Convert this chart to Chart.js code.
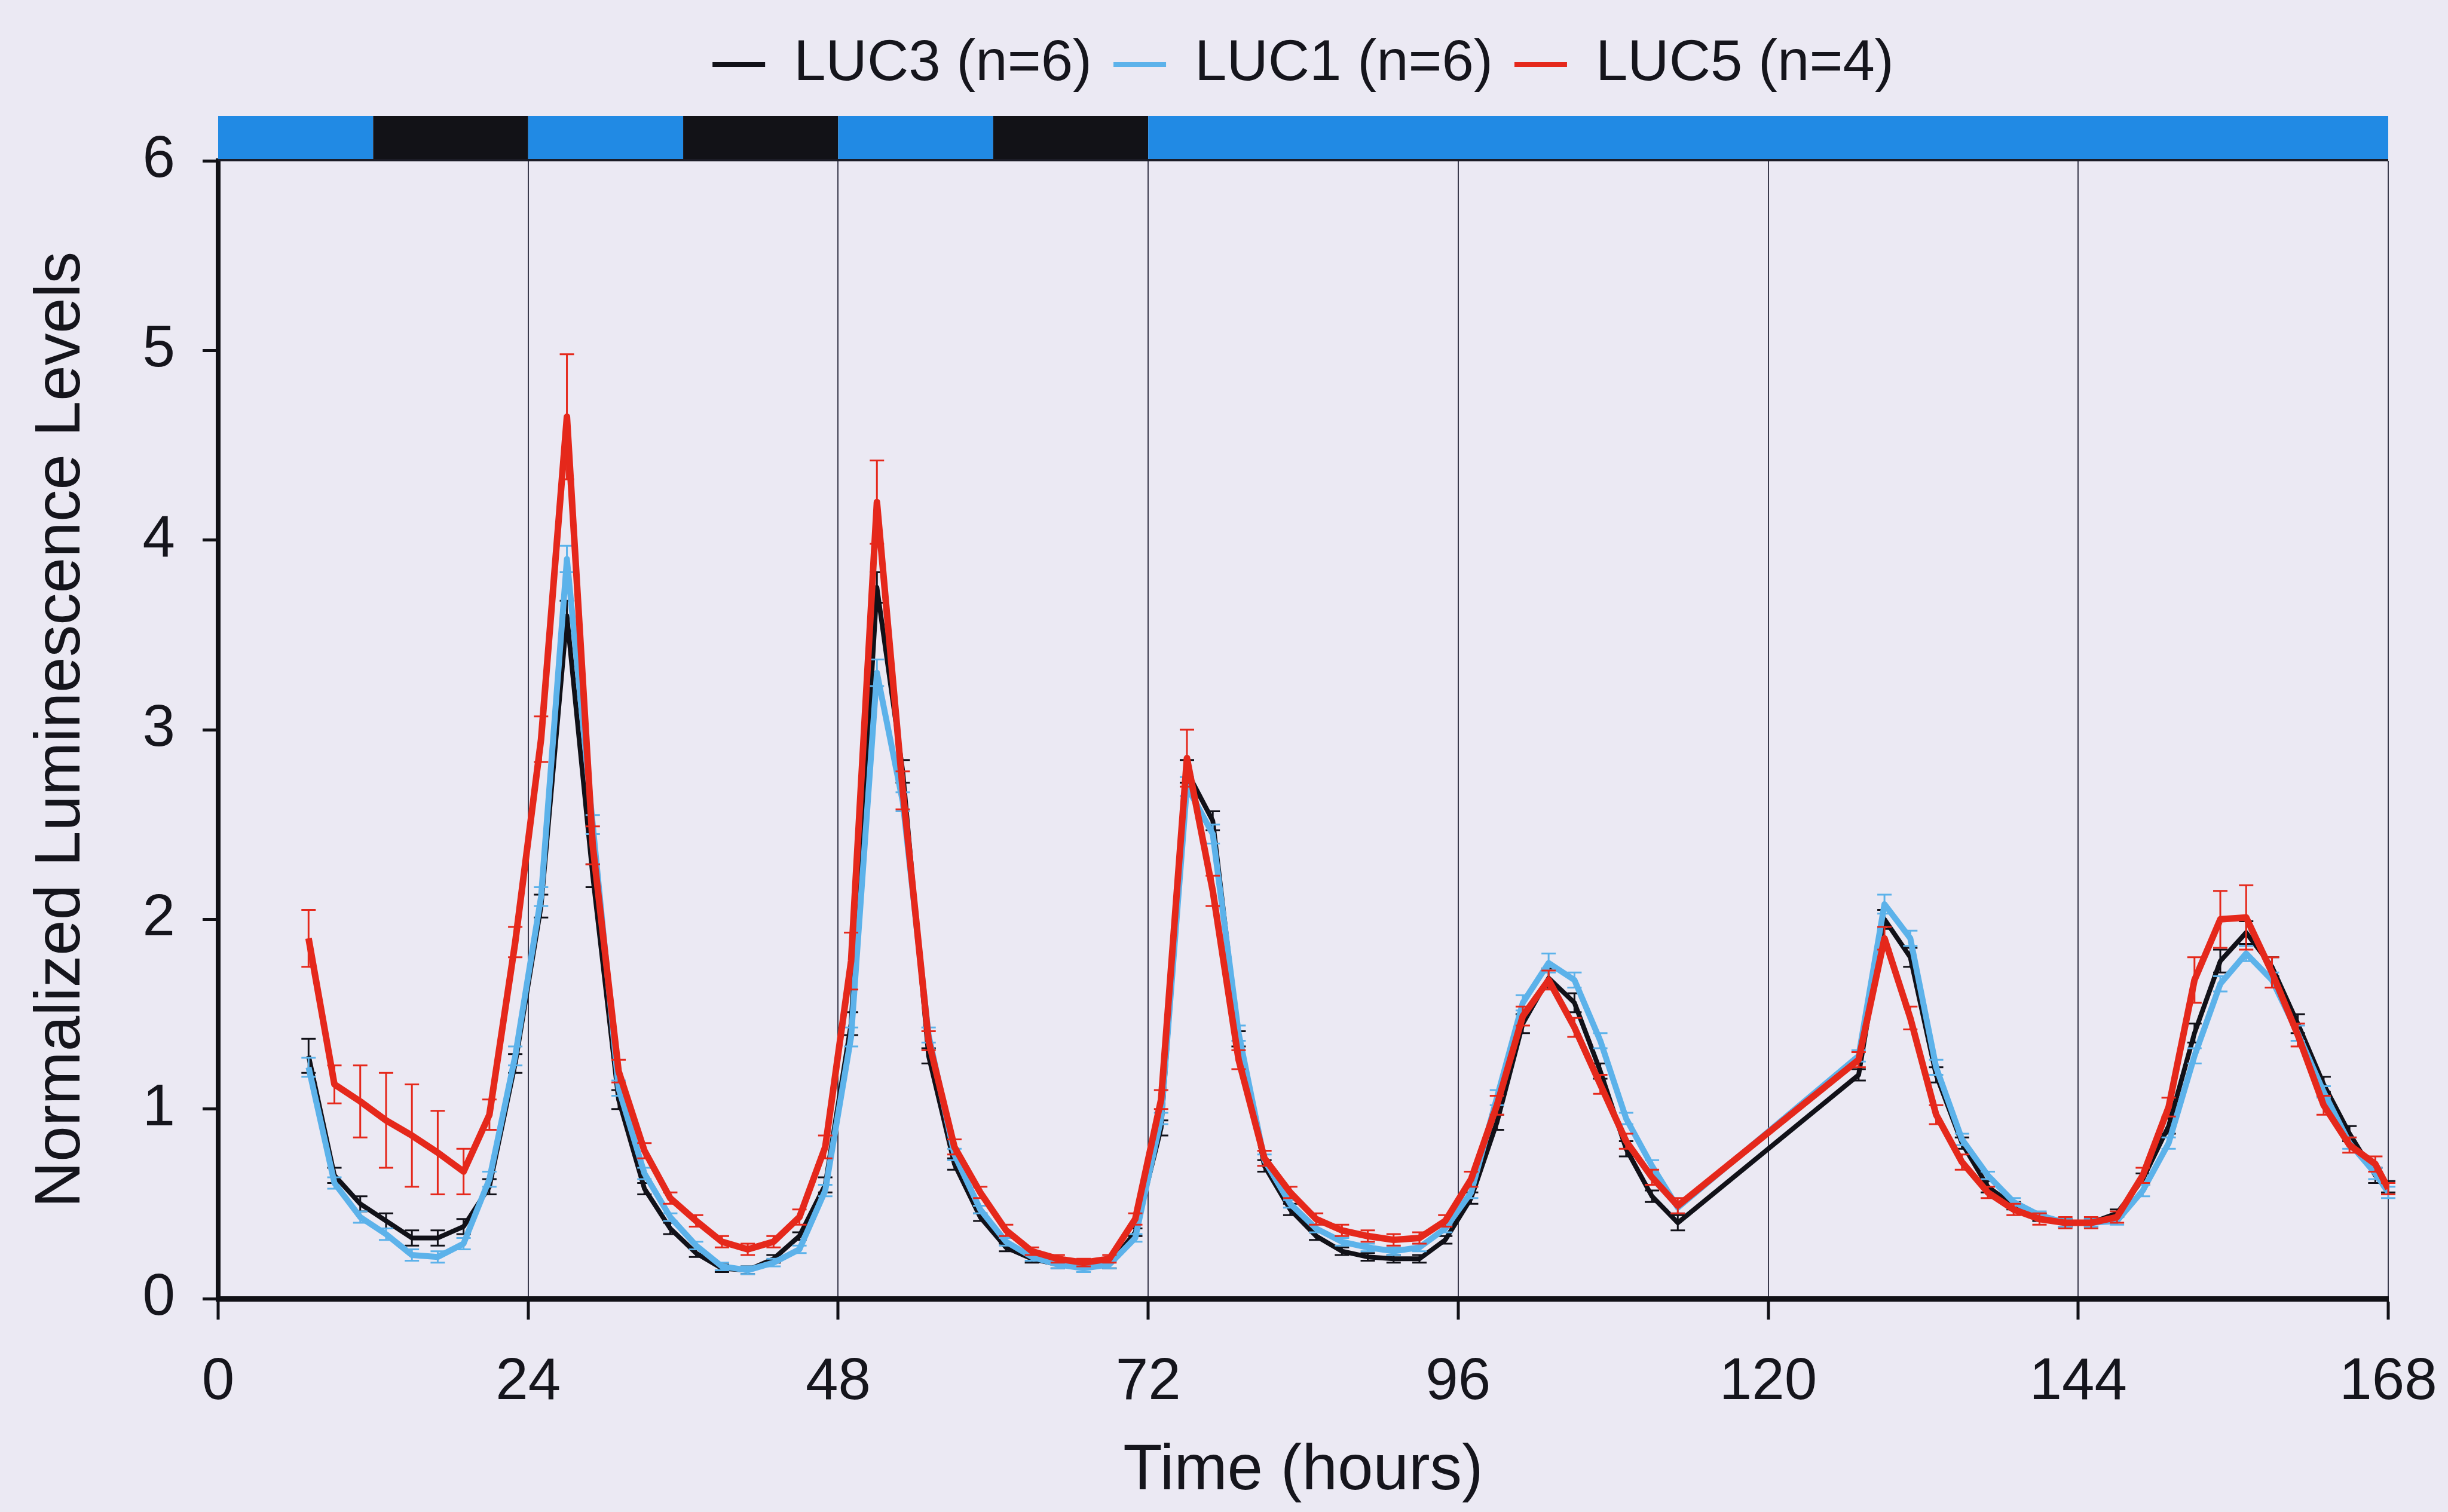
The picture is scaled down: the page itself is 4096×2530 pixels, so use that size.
<!DOCTYPE html>
<html lang="en">
<head>
  <meta charset="utf-8">
  <title>Normalized Luminescence Levels</title>
  <style>
    html, body { margin: 0; padding: 0; background: #ebe9f3; }
    #wrap { width: 4096px; height: 2530px; }
  </style>
</head>
<body>
<div id="wrap"><canvas id="lumChart" width="4096" height="2530"></canvas></div>
<script src="https://cdn.jsdelivr.net/npm/chart.js"></script>
<script>
   // sampling times (hours); no samples between 113 and 127
   const hours = [7, 9, 11, 13, 15, 17, 19, 21, 23, 25, 27, 29, 31, 33, 35, 37, 39, 41, 43, 45,
      47, 49, 51, 53, 55, 57, 59, 61, 63, 65, 67, 69, 71, 73, 75, 77, 79, 81, 83, 85,
      87, 89, 91, 93, 95, 97, 99, 101, 103, 105, 107, 109, 111, 113,
      127, 129, 131, 133, 135, 137, 139, 141, 143, 145, 147, 149, 151, 153, 155, 157,
      159, 161, 163, 165, 167, 168];

   const luc3 = [1.28, 0.65, 0.50, 0.41, 0.32, 0.32, 0.38, 0.59, 1.24, 2.07, 3.60, 2.23, 1.05, 0.58, 0.37, 0.24, 0.16, 0.15, 0.21, 0.33,
      0.60, 1.45, 3.75, 2.78, 1.28, 0.71, 0.43, 0.27, 0.21, 0.18, 0.16, 0.18, 0.35, 0.90, 2.78, 2.52, 1.37, 0.70, 0.47, 0.33,
      0.25, 0.22, 0.21, 0.21, 0.31, 0.53, 0.93, 1.45, 1.69, 1.56, 1.20, 0.79, 0.54, 0.40,
      1.18, 2.00, 1.80, 1.18, 0.82, 0.59, 0.49, 0.43, 0.40, 0.40, 0.45, 0.63, 0.91, 1.40, 1.78, 1.93,
      1.75, 1.45, 1.13, 0.87, 0.65, 0.59];
   const luc1 = [1.22, 0.61, 0.43, 0.34, 0.23, 0.22, 0.29, 0.63, 1.28, 2.12, 3.90, 2.50, 1.11, 0.66, 0.43, 0.28, 0.17, 0.15, 0.19, 0.26,
      0.57, 1.38, 3.30, 2.62, 1.39, 0.76, 0.47, 0.30, 0.22, 0.18, 0.16, 0.18, 0.32, 0.95, 2.70, 2.45, 1.40, 0.73, 0.50, 0.37,
      0.30, 0.27, 0.25, 0.27, 0.37, 0.56, 1.06, 1.56, 1.77, 1.68, 1.36, 0.95, 0.70, 0.48,
      1.28, 2.08, 1.90, 1.22, 0.84, 0.65, 0.51, 0.44, 0.40, 0.40, 0.41, 0.57, 0.82, 1.28, 1.66, 1.82,
      1.68, 1.40, 1.09, 0.82, 0.66, 0.56];
   const luc5 = [1.90, 1.13, 1.04, 0.94, 0.86, 0.77, 0.67, 0.97, 1.88, 2.95, 4.65, 2.39, 1.20, 0.78, 0.53, 0.41, 0.30, 0.26, 0.30, 0.43,
      0.80, 1.78, 4.20, 2.68, 1.36, 0.80, 0.56, 0.36, 0.25, 0.21, 0.19, 0.21, 0.42, 1.05, 2.85, 2.15, 1.26, 0.74, 0.56, 0.42,
      0.36, 0.33, 0.31, 0.32, 0.41, 0.63, 1.02, 1.49, 1.68, 1.43, 1.13, 0.83, 0.64, 0.49,
      1.26, 1.90, 1.48, 0.97, 0.72, 0.56, 0.47, 0.42, 0.40, 0.40, 0.43, 0.65, 1.01, 1.68, 2.00, 2.01,
      1.72, 1.39, 1.02, 0.81, 0.71, 0.58];

   // standard errors
   const luc3Err = [0.09, 0.04, 0.04, 0.04, 0.04, 0.04, 0.04, 0.04, 0.05, 0.06, 0.08, 0.06, 0.05, 0.03, 0.03, 0.02, 0.02, 0.02, 0.02, 0.02,
      0.04, 0.06, 0.08, 0.06, 0.04, 0.03, 0.02, 0.02, 0.02, 0.02, 0.02, 0.02, 0.02, 0.04, 0.06, 0.05, 0.04, 0.03, 0.03, 0.02,
      0.02, 0.02, 0.02, 0.02, 0.02, 0.03, 0.04, 0.05, 0.05, 0.05, 0.04, 0.04, 0.03, 0.04,
      0.03, 0.05, 0.05, 0.04, 0.03, 0.03, 0.02, 0.02, 0.02, 0.02, 0.02, 0.03, 0.04, 0.05, 0.06, 0.06,
      0.05, 0.05, 0.04, 0.04, 0.04, 0.03];
   const luc1Err = [0.05, 0.03, 0.03, 0.03, 0.03, 0.03, 0.03, 0.04, 0.05, 0.05, 0.07, 0.05, 0.04, 0.03, 0.02, 0.02, 0.02, 0.02, 0.02, 0.02,
      0.03, 0.05, 0.07, 0.05, 0.04, 0.03, 0.02, 0.02, 0.02, 0.02, 0.02, 0.02, 0.02, 0.03, 0.05, 0.05, 0.04, 0.03, 0.02, 0.02,
      0.02, 0.02, 0.02, 0.02, 0.02, 0.03, 0.04, 0.04, 0.05, 0.04, 0.04, 0.03, 0.03, 0.03,
      0.03, 0.05, 0.04, 0.04, 0.03, 0.02, 0.02, 0.02, 0.02, 0.02, 0.02, 0.03, 0.03, 0.04, 0.04, 0.04,
      0.04, 0.04, 0.03, 0.03, 0.03, 0.03];
   const luc5Err = [0.15, 0.10, 0.19, 0.25, 0.27, 0.22, 0.12, 0.08, 0.08, 0.12, 0.33, 0.10, 0.06, 0.04, 0.03, 0.03, 0.03, 0.03, 0.03, 0.04,
      0.06, 0.15, 0.22, 0.10, 0.05, 0.04, 0.03, 0.03, 0.02, 0.02, 0.02, 0.02, 0.03, 0.05, 0.15, 0.08, 0.05, 0.04, 0.03, 0.03,
      0.03, 0.03, 0.03, 0.03, 0.03, 0.04, 0.05, 0.05, 0.05, 0.05, 0.05, 0.04, 0.04, 0.04,
      0.04, 0.06, 0.06, 0.05, 0.04, 0.03, 0.03, 0.03, 0.03, 0.03, 0.03, 0.04, 0.05, 0.12, 0.15, 0.17,
      0.08, 0.06, 0.05, 0.04, 0.04, 0.03];

   const seriesLabels = ['LUC3 (n=6)', 'LUC1 (n=6)', 'LUC5 (n=4)'];
   const xTicks = [0, 24, 48, 72, 96, 120, 144, 168];
   const yTicks = [0, 1, 2, 3, 4, 5, 6];

   // light / dark bar above the plot
   const phaseStart = [0, 12, 24, 36, 48, 60, 72];
   const phaseEnd = [12, 24, 36, 48, 60, 72, 168];
   const phaseDark = [false, true, false, true, false, true, false];

   const TEXT = '#15151c';
   Chart.defaults.font.family = '"Liberation Sans", Arial, sans-serif';
   Chart.defaults.color = TEXT;

   function points(ys){
      return hours.map((h, i) => ({ x: h, y: ys[i] }));
   }

   const errorBars = {
      id: 'errorBars',
      afterDatasetDraw(chart, args){
         const ds = chart.data.datasets[args.index];
         if( !ds.errors ) return;
         const xs = chart.scales.x, ys = chart.scales.y, ctx = chart.ctx;
         const cap = 12;
         ctx.save();
         ctx.strokeStyle = ds.borderColor;
         ctx.lineWidth = 3;
         ds.data.forEach((p, i) => {
            const px = xs.getPixelForValue(p.x);
            const top = ys.getPixelForValue(p.y + ds.errors[i]);
            const bot = ys.getPixelForValue(p.y - ds.errors[i]);
            ctx.beginPath();
            ctx.moveTo(px, top); ctx.lineTo(px, bot);
            ctx.moveTo(px - cap, top); ctx.lineTo(px + cap, top);
            ctx.moveTo(px - cap, bot); ctx.lineTo(px + cap, bot);
            ctx.stroke();
         });
         ctx.restore();
      }
   };

   const photoperiodBar = {
      id: 'photoperiodBar',
      afterDraw(chart){
         const {ctx, chartArea} = chart;
         const xs = chart.scales.x;
         const h = 75;
         ctx.save();
         phaseStart.forEach((s, i) => {
            const x0 = xs.getPixelForValue(s);
            const x1 = xs.getPixelForValue(phaseEnd[i]);
            ctx.fillStyle = phaseDark[i] ? '#121217' : '#218ae4';
            ctx.fillRect(x0, chartArea.top - h, x1 - x0, h);
         });
         ctx.fillStyle = '#1c1c26';
         const l = xs.getPixelForValue(0), r = xs.getPixelForValue(168);
         ctx.fillRect(l, chartArea.top - 3, r - l, 4);
         ctx.restore();
      }
   };

   new Chart(document.getElementById('lumChart'), {
      type: 'line',
      data: {
         datasets: [
            { label: seriesLabels[0], data: points(luc3), errors: luc3Err, borderColor: '#111118', backgroundColor: '#111118', borderWidth: 8, order: 2 },
            { label: seriesLabels[1], data: points(luc1), errors: luc1Err, borderColor: '#5cb2ea', backgroundColor: '#5cb2ea', borderWidth: 10, order: 1 },
            { label: seriesLabels[2], data: points(luc5), errors: luc5Err, borderColor: '#e5281b', backgroundColor: '#e5281b', borderWidth: 11, order: 0 },
         ]
      },
      options: {
         responsive: false,
         devicePixelRatio: 1,
         animation: false,
         layout: { padding: { top: 24, right: 100, bottom: 0, left: 0 } },
         elements: {
            point: { radius: 0, hoverRadius: 0 },
            line: { tension: 0, borderJoinStyle: 'round', borderCapStyle: 'butt' }
         },
         plugins: {
            tooltip: { enabled: false },
            legend: {
               position: 'top',
               fullSize: false,
               labels: {
                  font: { size: 96 },
                  color: TEXT,
                  boxWidth: 88,
                  boxHeight: 8,
                  padding: 36,
                  generateLabels: chart => chart.data.datasets.map((ds, i) => ({
                     text: ds.label,
                     fillStyle: ds.borderColor,
                     strokeStyle: ds.borderColor,
                     lineWidth: 0,
                     hidden: false,
                     datasetIndex: i,
                     fontColor: TEXT
                  }))
               }
            }
         },
         scales: {
            x: {
               type: 'linear',
               position: 'bottom',
               min: 0,
               max: 168,
               afterBuildTicks: s => { s.ticks = xTicks.map(v => ({ value: v })); },
               afterFit: s => { s.height = 357; s.paddingLeft = 0; s.paddingRight = 0; },
               border: { display: true, color: '#111116', width: 9 },
               grid: {
                  drawOnChartArea: true,
                  drawTicks: true,
                  tickLength: 35,
                  tickWidth: 5,
                  tickColor: '#111116',
                  lineWidth: 2,
                  color: c => (c.tick && c.tick.value === 0) ? 'rgba(0,0,0,0)' : '#3a3a4c'
               },
               ticks: { font: { size: 98 }, color: TEXT, padding: 47, maxRotation: 0 },
               title: { display: true, text: 'Time (hours)', font: { size: 107 }, color: TEXT, padding: { top: 0, bottom: 3 } }
            },
            xTop: {
               type: 'linear',
               position: 'top',
               min: 0,
               max: 168,
               afterFit: s => { s.height = 103; s.paddingLeft = 0; s.paddingRight = 0; },
               border: { display: false },
               grid: { display: false },
               ticks: { display: false }
            },
            y: {
               type: 'linear',
               position: 'left',
               min: 0,
               max: 6,
               afterBuildTicks: s => { s.ticks = yTicks.map(v => ({ value: v })); },
               afterFit: s => { s.width = 365; },
               border: { display: true, color: '#111116', width: 8 },
               grid: {
                  drawOnChartArea: false,
                  drawTicks: true,
                  tickLength: 26,
                  tickWidth: 5,
                  tickColor: '#111116'
               },
               ticks: { font: { size: 98 }, color: TEXT, padding: 46 },
               title: { display: true, text: 'Normalized Luminescence Levels', font: { size: 107 }, color: TEXT, padding: { top: 39, bottom: 0 } }
            }
         }
      },
      plugins: [errorBars, photoperiodBar]
   });
</script>
</body>
</html>
